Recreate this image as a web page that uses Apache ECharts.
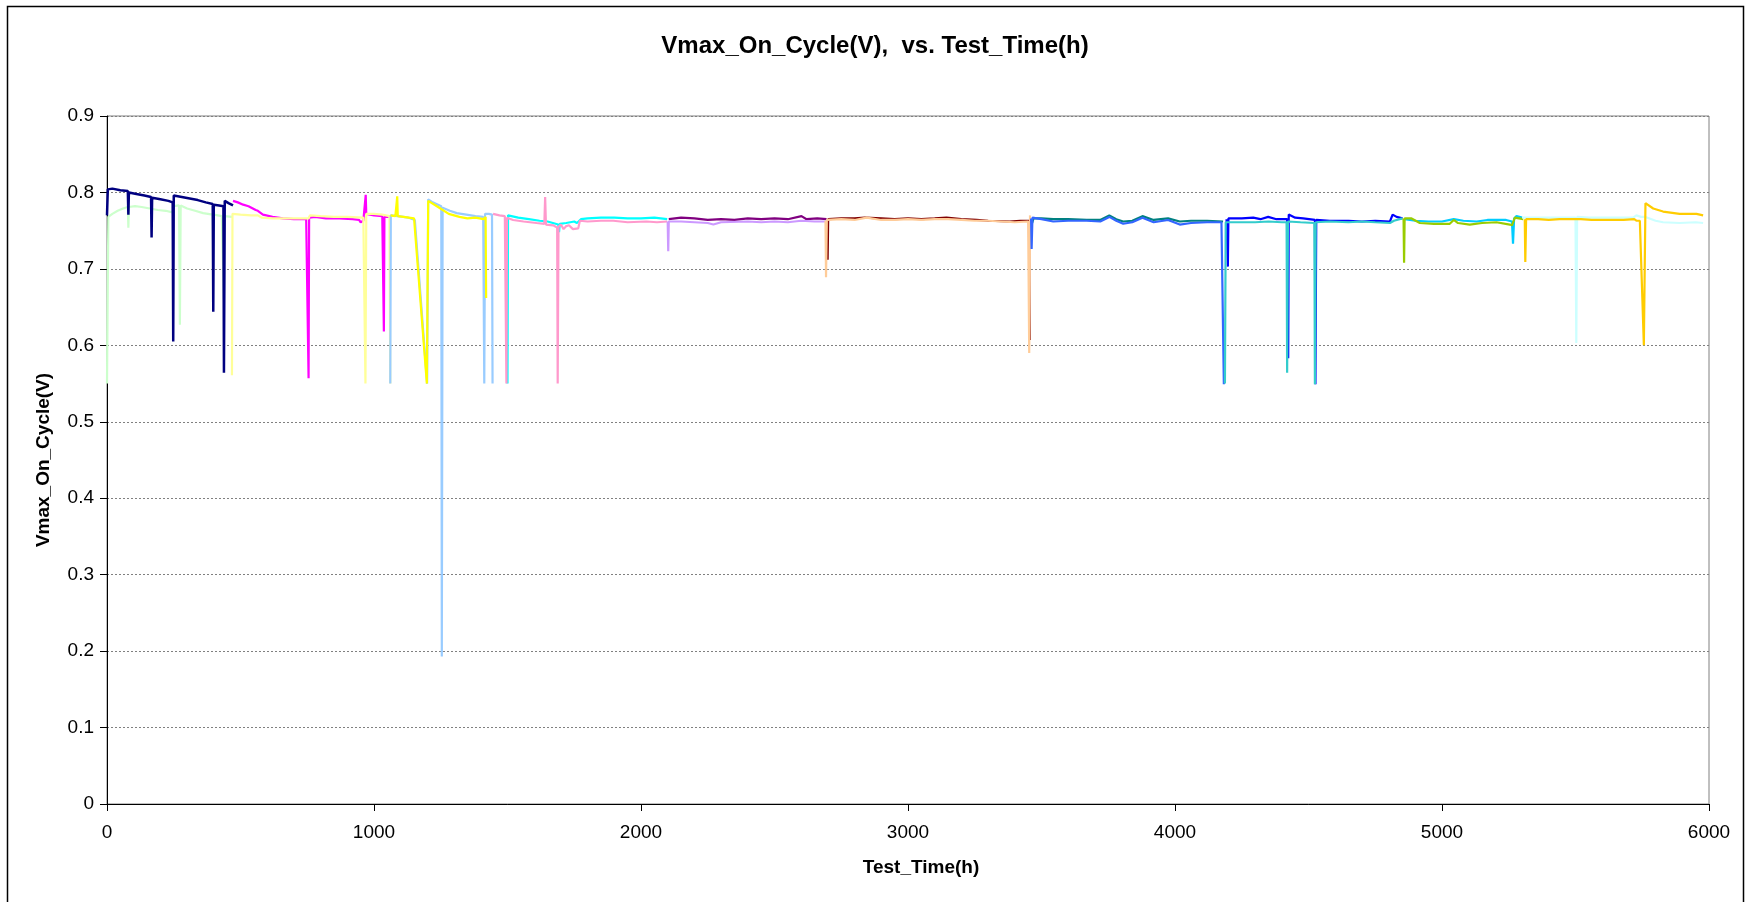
<!DOCTYPE html>
<html>
<head>
<meta charset="utf-8">
<script src="https://cdn.jsdelivr.net/npm/echarts@6/dist/echarts.min.js"></script>
<style>
html,body{margin:0;padding:0;background:#fff;}
#chart{width:1750px;height:902px;}
</style>
</head>
<body>
<div id="chart"></div>
<script>
// ---- data (Test_Time h, Vmax_On_Cycle V) ----
const xTicks = [0, 1000, 2000, 3000, 4000, 5000, 6000];
const yTicks = [0, 0.1, 0.2, 0.3, 0.4, 0.5, 0.6, 0.7, 0.8, 0.9];

const seriesNames = ['Navy','LightGreen','PaleYellow','Magenta','Yellow','LightBlue','Rose','Cyan','Lavender','Purple','DarkRed','Tan','RoyalBlue','Teal','Turquoise','Blue','YellowGreen','SkyBlue','PaleTurquoise','Gold'];

const navy = [[0,0.77],[3,0.804],[20,0.805],[50,0.803],[78,0.802],[80,0.771],[82,0.800],[110,0.798],[140,0.796],[165,0.794],[167,0.741],[169,0.793],[200,0.791],[230,0.789],[246,0.787],[248,0.605],[250,0.796],[280,0.794],[310,0.792],[340,0.790],[370,0.787],[396,0.785],[398,0.644],[400,0.784],[420,0.783],[436,0.782],[438,0.564],[441,0.789],[455,0.786],[472,0.783]];
const lightGreen = [[0,0.55],[5,0.768],[20,0.772],[40,0.776],[60,0.779],[78,0.781],[80,0.754],[82,0.781],[105,0.782],[130,0.781],[160,0.779],[190,0.777],[220,0.776],[245,0.774],[250,0.782],[270,0.783],[273,0.627],[276,0.783],[300,0.779],[330,0.776],[360,0.773],[396,0.771],[398,0.749],[400,0.771],[430,0.769],[438,0.66],[441,0.769],[468,0.768]];
const paleYellow = [[468,0.561],[470,0.772],[500,0.771],[540,0.770],[565,0.770],[580,0.767],[620,0.766],[700,0.766],[755,0.766],[760,0.770],[800,0.769],[850,0.768],[900,0.768],[960,0.767],[966,0.767],[968,0.55],[971,0.772],[1000,0.772],[1030,0.771],[1058,0.769],[1061,0.55]];
const magenta = [[472,0.789],[490,0.787],[510,0.784],[530,0.782],[557,0.777],[565,0.776],[584,0.771],[620,0.768],[659,0.766],[700,0.765],[746,0.765],[753,0.765],[755,0.557],[757,0.767],[780,0.768],[820,0.766],[870,0.766],[920,0.765],[944,0.764],[950,0.761],[960,0.763],[967,0.763],[969,0.797],[971,0.772],[1000,0.770],[1031,0.769],[1035,0.769],[1037,0.618],[1039,0.768],[1055,0.768]];
const yellow = [[1062,0.770],[1080,0.769],[1085,0.769],[1087,0.795],[1089,0.769],[1110,0.768],[1130,0.767],[1150,0.766],[1198,0.55],[1203,0.789],[1240,0.781],[1280,0.772],[1320,0.768],[1350,0.766],[1380,0.767],[1410,0.765],[1418,0.768],[1420,0.662]];
const lightBlue = [[1061,0.550],[1063,0.770],[1090,0.769],[1110,0.768],[1130,0.767],[1153,0.764],[1199,0.550],[1203,0.791],[1220,0.787],[1240,0.784],[1252,0.782],[1254,0.193],[1257,0.780],[1284,0.776],[1310,0.773],[1346,0.771],[1380,0.769],[1409,0.768],[1411,0.768],[1413,0.55],[1416,0.772],[1430,0.772],[1442,0.771],[1444,0.55]];
const rose = [[1446,0.772],[1470,0.770],[1490,0.769],[1494,0.768],[1496,0.55],[1498,0.767],[1521,0.764],[1560,0.762],[1609,0.760],[1638,0.759],[1641,0.794],[1644,0.758],[1671,0.757],[1686,0.754],[1688,0.55],[1691,0.755],[1700,0.758],[1710,0.752],[1720,0.756],[1730,0.757],[1745,0.752],[1750,0.751],[1765,0.753],[1771,0.763],[1800,0.762],[1850,0.763],[1896,0.763],[1950,0.761],[2020,0.762],[2060,0.761],[2098,0.762]];
const cyan = [[1500,0.55],[1502,0.770],[1540,0.767],[1580,0.765],[1620,0.763],[1650,0.762],[1680,0.759],[1690,0.758],[1693,0.748],[1696,0.759],[1720,0.760],[1750,0.762],[1760,0.760],[1775,0.765],[1800,0.766],[1850,0.767],[1900,0.767],[1950,0.766],[2000,0.766],[2050,0.767],[2098,0.765]];
const lavender = [[2100,0.762],[2102,0.723],[2104,0.762],[2150,0.762],[2200,0.761],[2250,0.760],[2271,0.758],[2300,0.761],[2400,0.762],[2450,0.761],[2500,0.762],[2550,0.761],[2600,0.763],[2650,0.762],[2695,0.762]];
const purple = [[2104,0.765],[2150,0.767],[2200,0.766],[2250,0.764],[2300,0.765],[2350,0.764],[2400,0.766],[2450,0.765],[2500,0.766],[2550,0.765],[2601,0.769],[2620,0.765],[2660,0.766],[2695,0.765]];
const darkRed = [[2697,0.764],[2699,0.712],[2701,0.765],[2750,0.766],[2800,0.766],[2839,0.767],[2900,0.766],[2950,0.765],[3000,0.766],[3050,0.765],[3100,0.766],[3144,0.767],[3200,0.765],[3257,0.764],[3300,0.763],[3381,0.762],[3420,0.763],[3453,0.763],[3456,0.607]];
const tan = [[2691,0.763],[2693,0.689],[2696,0.764],[2750,0.765],[2800,0.764],[2845,0.767],[2900,0.764],[2950,0.764],[3000,0.765],[3050,0.764],[3100,0.765],[3150,0.765],[3200,0.764],[3250,0.763],[3300,0.763],[3350,0.762],[3400,0.761],[3450,0.762],[3454,0.59],[3457,0.770]];
const royalBlue = [[3461,0.766],[3463,0.726],[3466,0.767],[3500,0.765],[3544,0.762],[3600,0.763],[3669,0.763],[3720,0.762],[3754,0.768],[3780,0.763],[3806,0.759],[3840,0.761],[3878,0.767],[3920,0.761],[3974,0.764],[4018,0.758],[4060,0.760],[4120,0.761],[4174,0.761],[4181,0.761],[4183,0.549]];
const teal = [[3465,0.760],[3470,0.766],[3500,0.766],[3544,0.765],[3600,0.765],[3669,0.764],[3720,0.764],[3754,0.770],[3780,0.765],[3806,0.762],[3840,0.763],[3878,0.769],[3920,0.764],[3974,0.766],[4018,0.762],[4060,0.763],[4120,0.763],[4180,0.762]];
const turquoise = [[4187,0.55],[4190,0.761],[4250,0.761],[4300,0.761],[4350,0.762],[4400,0.761],[4418,0.761],[4420,0.564],[4423,0.762],[4470,0.761],[4522,0.760],[4524,0.549],[4527,0.761],[4580,0.762],[4650,0.761],[4700,0.762],[4750,0.761],[4805,0.760],[4820,0.763],[4852,0.766]];
const blue = [[4193,0.765],[4196,0.765],[4198,0.703],[4200,0.766],[4250,0.766],[4293,0.767],[4320,0.765],[4349,0.768],[4380,0.765],[4420,0.765],[4424,0.583],[4426,0.771],[4450,0.767],[4480,0.766],[4524,0.764],[4526,0.549],[4529,0.764],[4580,0.763],[4650,0.763],[4700,0.762],[4750,0.763],[4805,0.762],[4815,0.771],[4830,0.768],[4852,0.766]];
const yellowGreen = [[4856,0.766],[4858,0.708],[4860,0.766],[4886,0.766],[4917,0.760],[4970,0.759],[5029,0.759],[5044,0.764],[5060,0.760],[5104,0.758],[5150,0.760],[5204,0.761],[5254,0.758],[5262,0.757],[5273,0.767],[5304,0.765]];
const skyBlue = [[4860,0.765],[4900,0.763],[4950,0.762],[5000,0.762],[5044,0.765],[5080,0.763],[5130,0.762],[5170,0.764],[5204,0.764],[5240,0.764],[5262,0.762],[5266,0.733],[5270,0.766],[5279,0.769],[5300,0.767]];
const paleTurquoise = [[5300,0.767],[5350,0.767],[5400,0.767],[5450,0.767],[5500,0.767],[5503,0.603],[5506,0.768],[5550,0.767],[5600,0.767],[5650,0.767],[5716,0.767],[5728,0.770],[5745,0.768],[5762,0.768],[5800,0.763],[5828,0.761],[5890,0.760],[5950,0.761],[5978,0.760]];
const gold = [[5310,0.765],[5312,0.709],[5315,0.765],[5360,0.765],[5400,0.764],[5440,0.765],[5480,0.765],[5520,0.765],[5560,0.764],[5600,0.764],[5640,0.764],[5680,0.764],[5720,0.765],[5728,0.763],[5741,0.763],[5756,0.600],[5762,0.786],[5791,0.779],[5828,0.775],[5890,0.772],[5953,0.772],[5978,0.770]];

const seriesData = [navy, lightGreen, paleYellow, magenta, yellow, lightBlue, rose, cyan, lavender, purple, darkRed, tan, royalBlue, teal, turquoise, blue, yellowGreen, skyBlue, paleTurquoise, gold];

// ---- styles ----
const seriesColors = ['#000080','#ccffcc','#ffff99','#ff00ff','#ffff00','#99ccff','#ff99cc','#00ffff','#cc99ff','#800080','#800000','#ffcc99','#3366ff','#008080','#33cccc','#0000ff','#99cc00','#00ccff','#ccffff','#ffcc00'];
const drawOrder = [1,0,3,2,5,4,7,6,9,8,10,11,13,12,15,14,17,16,18,19];

const FONT = '"Liberation Sans", Arial, sans-serif';
const chart = echarts.init(document.getElementById('chart'), null, {renderer: 'canvas'});

const series = drawOrder.map(i => ({
  name: seriesNames[i],
  type: 'line',
  data: seriesData[i],
  showSymbol: false,
  symbol: 'none',
  smooth: false,
  lineStyle: {color: seriesColors[i], width: i === 0 ? 2.5 : 2.2},
  itemStyle: {color: seriesColors[i]},
  emphasis: {disabled: true},
  z: 2
}));

chart.setOption({
  animation: false,
  backgroundColor: '#ffffff',
  title: {
    text: 'Vmax_On_Cycle(V),  vs. Test_Time(h)',
    left: 'center',
    top: 29,
    textStyle: {fontFamily: FONT, fontSize: 24, fontWeight: 'bold', color: '#000'}
  },
  grid: {
    left: 107, top: 116, width: 1602, height: 688,
    show: true, borderColor: '#808080', borderWidth: 1, backgroundColor: 'transparent'
  },
  xAxis: {
    type: 'value', min: 0, max: 6000, interval: 1000,
    name: 'Test_Time(h)', nameLocation: 'middle', nameGap: 54,
    nameTextStyle: {fontFamily: FONT, fontSize: 19, fontWeight: 'bold', color: '#000', padding: [0, 0, 0, 26]},
    axisLine: {show: true, lineStyle: {color: '#000', width: 1}},
    axisTick: {show: true, inside: false, length: 7, lineStyle: {color: '#000'}},
    axisLabel: {fontFamily: FONT, fontSize: 19, color: '#000', margin: 19,
      formatter: v => xTicks.includes(v) ? String(v) : ''},
    splitLine: {show: false}
  },
  yAxis: {
    type: 'value', min: 0, max: 0.9, interval: 0.1,
    name: 'Vmax_On_Cycle(V)', nameLocation: 'middle', nameGap: 54, nameRotate: 90,
    nameTextStyle: {fontFamily: FONT, fontSize: 19, fontWeight: 'bold', color: '#000'},
    axisLine: {show: true, lineStyle: {color: '#000', width: 1}},
    axisTick: {show: true, inside: false, length: 7, lineStyle: {color: '#000'}},
    axisLabel: {fontFamily: FONT, fontSize: 19, color: '#000', margin: 13,
      formatter: v => { const t = yTicks.find(k => Math.abs(k - v) < 1e-9); return t === undefined ? '' : String(t); }},
    splitLine: {show: true, lineStyle: {color: '#808080', type: [2, 2], width: 1}}
  },
  graphic: [{
    type: 'rect', silent: true, z: 100,
    shape: {x: 7.5, y: 6.5, width: 1736, height: 910},
    style: {fill: 'none', stroke: '#000', lineWidth: 1.5}
  }],
  series: series
});
</script>
</body>
</html>
